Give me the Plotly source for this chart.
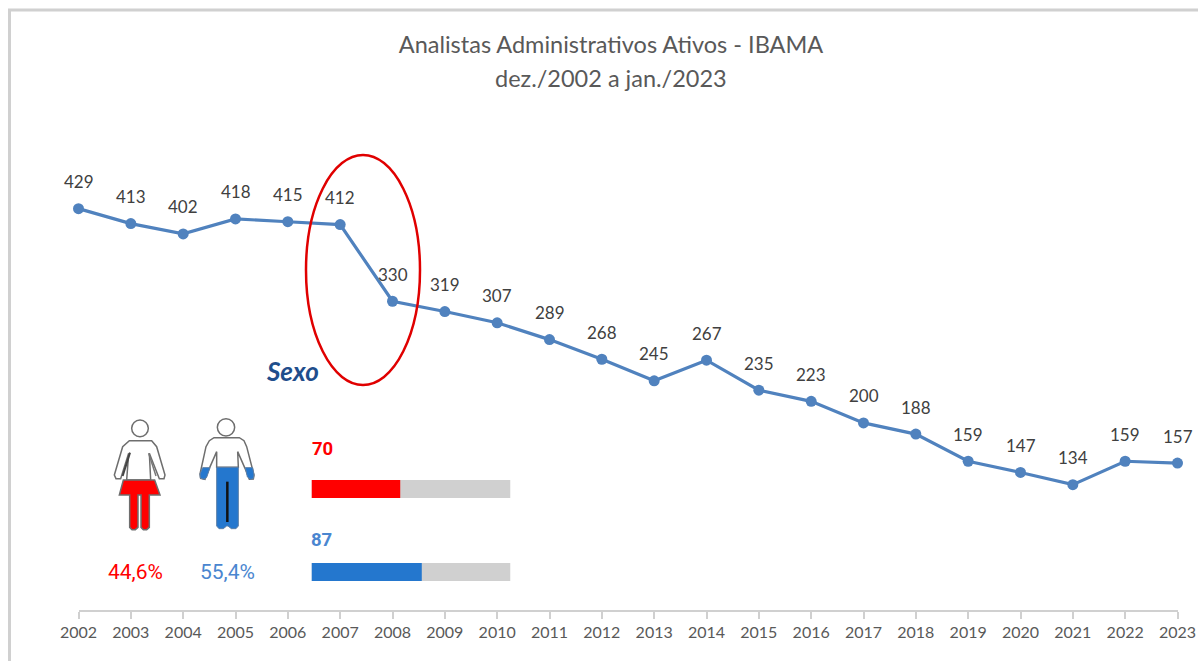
import plotly.graph_objects as go

W, H = 1198, 661
years = list(range(2002, 2024))
analysts = [429, 413, 402, 418, 415, 412, 330, 319, 307, 289, 268, 245, 267, 235, 223, 200, 188, 159, 147, 134, 159, 157]
sex_labels = ["Homens", "Mulheres"]
sex_counts = [87, 70]
sex_share = ["55,4%", "44,6%"]
total_now = 157
title_lines = ["Analistas Administrativos Ativos - IBAMA", "dez./2002 a jan./2023"]

LINE = "#5082BE"
RED = "#FF0000"
BLUE = "#2477CE"
GRAY = "#D0D0D0"
FONT = "Lato"

def px(x): return x / W
def py(y): return 1 - y / H

def path(points, close=True):
    s = "M " + " L ".join(f"{px(x):.5f},{py(y):.5f}" for x, y in points)
    return s + (" Z" if close else "")

def zw(x, y):  # icon crop pixels -> page pixels
    return (90 + x / 3, 400 + y / 3)

def shape(points, fill=None, line="#6E6E6E", width=1.5, close=True):
    return dict(type="path", xref="paper", yref="paper", layer="above",
                path=path([zw(*p) for p in points], close),
                fillcolor=fill if fill else "rgba(0,0,0,0)",
                line=dict(color=line if line else "rgba(0,0,0,0)", width=width))

def head(cx, cy, r):
    a, b = zw(cx - r, cy - r), zw(cx + r, cy + r)
    return dict(type="circle", xref="paper", yref="paper", layer="above",
                x0=px(a[0]), x1=px(b[0]), y0=py(a[1]), y1=py(b[1]),
                fillcolor="white", line=dict(color="#6E6E6E", width=1.5))

def note(x, y, text, family, size, color):
    return dict(x=px(x), y=py(y), xref="paper", yref="paper", text=text, showarrow=False,
                xanchor="center", yanchor="middle",
                font=dict(family=family, size=size, color=color))

fig = go.Figure()
fig.add_trace(go.Scatter(x=years, y=analysts, mode="lines+markers",
                         line=dict(color=LINE, width=3.2),
                         marker=dict(color=LINE, size=11), cliponaxis=False,
                         showlegend=False, hoverinfo="x+y"))
fig.add_trace(go.Bar(y=sex_labels, x=[total_now] * 2, orientation="h", xaxis="x2", yaxis="y2",
                     marker=dict(color=GRAY, line=dict(width=0)), showlegend=False))
fig.add_trace(go.Bar(y=sex_labels, x=sex_counts, orientation="h", xaxis="x2", yaxis="y2",
                     marker=dict(color=[BLUE, RED], line=dict(width=0)), showlegend=False))

ann = []
for yr, v in zip(years, analysts):
    ann.append(dict(x=yr, y=v, xref="x", yref="y", text=str(v), showarrow=False, yshift=27,
                    font=dict(family=FONT, size=17, color="#404040")))
ann += [
    note(611, 78, title_lines[1], FONT, 23.5, "#595959"),
    note(292, 371, "<b><i>Sexo</i></b>", FONT, 26, "#1F4E8C"),
    note(322, 449, f"<b>{sex_counts[1]}</b>", "Roboto", 18.5, RED),
    note(321, 540, f"<b>{sex_counts[0]}</b>", "Roboto", 18.5, "#4A86D0"),
    note(135, 572, sex_share[1], "Roboto", 21, RED),
    note(227, 572, sex_share[0], "Roboto", 21, "#4A86D0"),
]

shapes = [
    dict(type="line", xref="paper", yref="paper", x0=px(9.5), x1=px(9.5), y0=py(10), y1=0, line=dict(color=GRAY, width=3)),
    dict(type="line", xref="paper", yref="paper", x0=px(8), x1=1, y0=py(10), y1=py(10), line=dict(color=GRAY, width=3)),
    dict(type="circle", xref="paper", yref="paper", x0=px(306), x1=px(420), y0=py(385), y1=py(155),
         line=dict(color="#E00000", width=2.5), layer="above"),
]

# woman pictogram
shapes += [
    shape([(118, 122), (185, 122), (200, 140), (225, 225), (222, 236), (208, 236), (178, 160), (182, 240), (110, 240), (116, 160), (92, 236), (78, 236), (73, 225), (98, 140)], fill="white"),
    shape([(100, 240), (194, 240), (210, 285), (178, 285), (178, 382), (170, 389), (160, 389), (153, 382), (153, 285), (144, 285), (144, 382), (136, 389), (126, 389), (119, 382), (119, 285), (88, 285)], fill=RED),
    shape([(120, 158), (98, 228)], line="#444444", width=2, close=False),
    shape([(176, 160), (198, 228)], line="#777777", width=1.5, close=False),
    head(150, 85, 25),
]
# man pictogram
shapes += [
    shape([(372, 113), (448, 113), (462, 122), (470, 140), (492, 225), (490, 237), (478, 238), (465, 205), (443, 155), (445, 202), (380, 202), (380, 155), (358, 205), (345, 238), (332, 235), (330, 222), (348, 140), (358, 122)], fill="white"),
    shape([(338, 203), (360, 203), (350, 232), (342, 238), (331, 234), (330, 222)], fill=BLUE, line="#5B7FA8", width=1),
    shape([(466, 203), (488, 203), (492, 225), (490, 236), (480, 238), (472, 230)], fill=BLUE, line="#5B7FA8", width=1),
    shape([(380, 202), (445, 202), (445, 378), (438, 386), (424, 386), (414, 378), (410, 378), (400, 386), (387, 386), (380, 378)], fill=BLUE, line="#5B7FA8", width=1),
    shape([(412, 245), (412, 366)], line="#111111", width=2.5, close=False),
    head(408, 82, 26),
]

fig.update_layout(
    width=W, height=H, autosize=False,
    margin=dict(l=0, r=0, t=0, b=0, autoexpand=False),
    paper_bgcolor="white", plot_bgcolor="rgba(0,0,0,0)",
    barmode="overlay", bargap=1 - 18 / 83, showlegend=False,
    title=dict(text=title_lines[0], x=px(611), xanchor="center", xref="paper",
               y=py(45), yanchor="middle", yref="container", automargin=False,
               font=dict(family=FONT, size=23.5, color="#595959")),
    xaxis=dict(domain=[px(78.5), px(1177.5)], range=[2002, 2023], tickmode="array", tickvals=years,
               ticktext=[str(y) for y in years], ticks="outside", ticklen=7, tickwidth=2,
               tickcolor=GRAY, showline=True, linecolor=GRAY, linewidth=2, showgrid=False,
               zeroline=False, tickangle=0, automargin=False, ticklabeloverflow="allow",
               tickfont=dict(family=FONT, size=16, color="#595959")),
    yaxis=dict(domain=[py(610), 1], range=[0, 610 / 0.9356], visible=False, showgrid=False,
               zeroline=False, automargin=False),
    xaxis2=dict(domain=[px(311.5), px(510.5)], range=[0, total_now], anchor="y2", visible=False, automargin=False),
    yaxis2=dict(domain=[py(613.5), py(447.5)], anchor="x2", visible=False, type="category",
                categoryorder="array", categoryarray=sex_labels, automargin=False),
    annotations=ann, shapes=shapes,
)
fig.write_html("out.html", config={"displayModeBar": False},
               post_script="document.body.style.margin='0';document.documentElement.style.overflow='hidden';")
